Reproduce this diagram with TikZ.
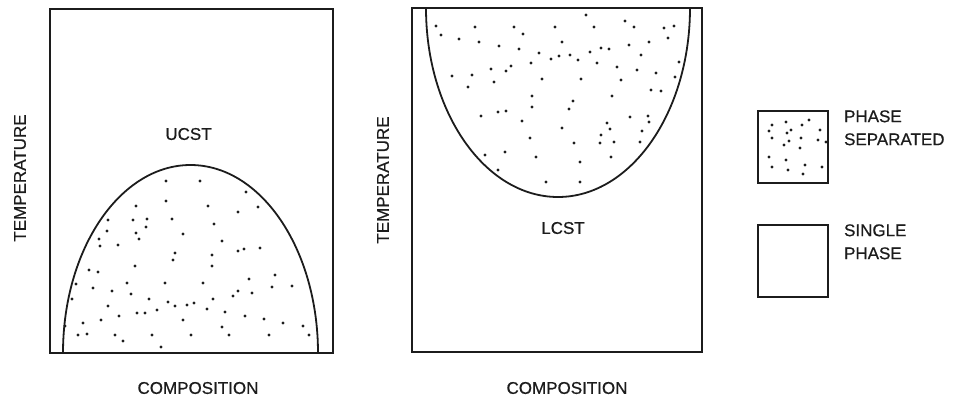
\documentclass[tikz,border=0pt]{standalone}
\usepackage{fontspec}
\setmainfont{Liberation Sans}
\newfontfamily\labelfont{Liberation Sans}[FakeBold=0.6]
\usetikzlibrary{positioning}
\definecolor{ink}{HTML}{1C1C1C}
\tikzset{
  frame line/.style={draw=ink, line width=1.8pt},
  phase curve/.style={draw=ink, line width=1.8pt},
  axis label/.style={
    font=\labelfont\fontsize{17}{20}\selectfont,
    text=ink,
    inner sep=0pt
  },
  legend box/.style={
    draw=ink, line width=1.8pt,
    minimum width=70pt, minimum height=72pt,
    inner sep=0pt
  },
  legend text/.style={
    font=\labelfont\fontsize{17}{23}\selectfont,
    text=ink, align=left, inner sep=0pt
  },
  spot/.style={fill=ink}
}

\begin{document}
\begin{tikzpicture}[x=1pt, y=-1pt]
  \useasboundingbox (0,0) rectangle (956,400);

  % UCST panel
  \draw[frame line] (50,9) rectangle (333,353);
  \begin{scope}
    \clip (50,9) rectangle (333,353);
    \draw[phase curve] (190.5,353) ellipse [x radius=127.5, y radius=188];
  \end{scope}
  \foreach \px/\py in {166/181,200/181,246/192,166/201,136/206,208/206,238/212,258/207,
      108/220,133/220,147/219,172/219,146/227,107/231,136/233,183/234,214/224,139/239,
      99/239,100/246,118/245,222/241,175/253,173/260,212/255,212/266,238/251,244/249,
      260/248,135/266,89/270,98/272,76/284,93/288,127/283,165/283,203/283,249/279,
      275/275,272/287,292/286,72/299,112/291,131/294,149/299,168/302,175/306,187/305,
      194/303,213/299,233/296,238/291,252/293,108/306,119/316,137/313,145/313,157/310,
      207/309,225/312,245/316,83/323,101/320,183/320,222/327,264/319,283/323,303/326,
      78/335,87/334,115/335,123/341,152/335,191/335,229/335,269/335,309/335,161/347,65/326}
    \fill[spot] (\px,\py) circle (1.7pt);
  \node[axis label, rotate=90] (tempucst) at (20,178) {TEMPERATURE};
  \node[axis label] (compucst) at (198,388) {COMPOSITION};
  \node[axis label] (ucst) at (188.5,134) {UCST};

  % LCST panel
  \draw[frame line] (412,8) rectangle (702,352);
  \begin{scope}
    \clip (412,8) rectangle (702,352);
    \draw[phase curve] (558,8) ellipse [x radius=132, y radius=189];
  \end{scope}
  \foreach \px/\py in {436/26,441/35,475/27,514/27,555/27,586/15,594/27,625/21,634/27,
      664/28,674/26,459/39,479/42,499/46,523/34,562/42,629/45,649/42,668/38,519/49,
      539/53,551/59,559/56,570/55,578/60,590/52,601/48,609/49,641/55,679/62,531/63,
      511/66,506/71,491/69,597/63,617/67,637/70,656/73,675/77,452/76,472/75,494/82,
      468/87,542/79,581/79,621/80,651/90,661/91,532/96,573/101,612/96,532/107,569/109,
      481/116,498/112,506/111,630/117,648/116,649/122,522/121,562/128,607/123,610/129,
      642/131,601/135,530/138,574/143,600/143,614/142,640/142,485/155,505/152,536/157,
      611/157,580/162,498/170,546/182,580/182}
    \fill[spot] (\px,\py) circle (1.7pt);
  \node[axis label, rotate=90] (templcst) at (383,180) {TEMPERATURE};
  \node[axis label] (complcst) at (567,388) {COMPOSITION};
  \node[axis label] (lcst) at (563,228) {LCST};

  % legend
  \node[legend box] (sepbox) at (793,147) {};
  \foreach \px/\py in {772/125,786/122,802/125,809/120,769/131,787/133,791/130,820/130,
      772/138,789/141,801/138,818/140,826/142,784/145,800/148,769/157,786/160,
      772/167,788/170,805/165,822/167,803/174}
    \fill[spot] (\px,\py) circle (1.7pt);
  \node[legend text, right=15pt of sepbox.north east, anchor=north west] (septext) {PHASE\\SEPARATED};

  \node[legend box] (singlebox) at (793,261) {};
  \node[legend text, right=15pt of singlebox.north east, anchor=north west] (singletext) {SINGLE\\PHASE};
\end{tikzpicture}
\end{document}
